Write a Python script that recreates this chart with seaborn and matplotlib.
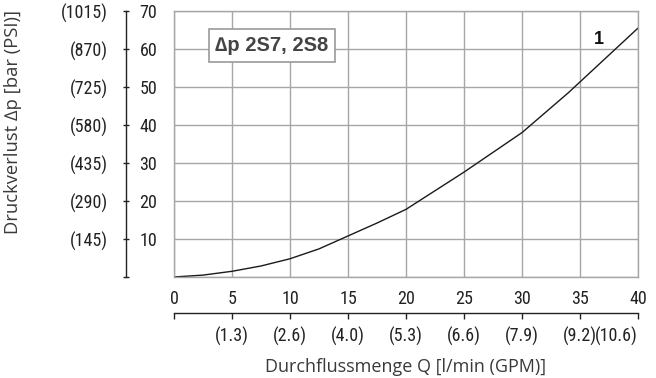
import matplotlib
matplotlib.use("Agg")
import matplotlib.pyplot as plt
from matplotlib import font_manager
import seaborn as sns
import pandas as pd

# ---- data ----
flow_lpm = [0, 2.5, 5, 7.5, 10, 12.5, 15, 17.5, 20, 25, 30, 34, 40]
dp_bar = [0, 0.5, 1.5, 2.9, 4.8, 7.4, 10.8, 14.2, 17.8, 27.6, 38.0, 48.5, 65.5]
x_ticks = [0, 5, 10, 15, 20, 25, 30, 35, 40]
x_tick_labels = ["0", "5", "10", "15", "20", "25", "30", "35", "40"]
gpm_labels = ["", "(1.3)", "(2.6)", "(4.0)", "(5.3)", "(6.6)", "(7.9)", "(9.2)", "(10.6)"]
y_ticks = [0, 10, 20, 30, 40, 50, 60, 70]
y_tick_labels = ["", "10", "20", "30", "40", "50", "60", "70"]
psi_labels = ["", "(145)", "(290)", "(435)", "(580)", "(725)", "(870)", "(1015)"]
title_text = "\u2206p 2S7, 2S8"
curve_label = "1"
x_label = "Durchflussmenge Q [l/min (GPM)]"
y_label = "Druckverlust \u2206p [bar (PSI)]"

sns.set_theme(style="white")

installed = {f.name for f in font_manager.fontManager.ttflist}
num_family = None
for cand in ["Liberation Sans Narrow", "Roboto Condensed", "Open Sans Condensed",
             "Noto Sans Condensed", "DejaVu Sans Condensed"]:
    if cand in installed:
        num_family = cand
        break
if num_family is None:
    num_family = "Liberation Sans"
    num_fs = 11.5
else:
    num_fs = 13
plt.rcParams["font.family"] = [num_family, "Liberation Sans", "DejaVu Sans"]

W, H = 656, 378
fig = plt.figure(figsize=(W / 100, H / 100), dpi=100)
L, R, T, B = 174, 638, 11, 277
ax = fig.add_axes([L / W, 1 - B / H, (R - L) / W, (B - T) / H])

df = pd.DataFrame({"Q": flow_lpm, "dp": dp_bar})
sns.lineplot(data=df, x="Q", y="dp", ax=ax, color="#1a1a1a", linewidth=1.0)

ax.set_xlim(0, 40)
ax.set_ylim(0, 70)
ax.set_xlabel("")
ax.set_ylabel("")
grid_c = "#a6a6a6"
ax.grid(True, color=grid_c, linewidth=1.0)
for s in ax.spines.values():
    s.set_color(grid_c)
    s.set_linewidth(1.0)

txt_c = "#222222"
ax.set_xticks(x_ticks)
ax.set_xticklabels(x_tick_labels, fontsize=num_fs, color=txt_c)
ax.set_yticks(y_ticks)
ax.set_yticklabels(y_tick_labels, fontsize=num_fs, color=txt_c)
ax.tick_params(axis="x", length=0, pad=9)
ax.tick_params(axis="y", length=0, pad=12)

# secondary y axis (PSI)
sy = ax.secondary_yaxis((126 - L) / (R - L))
sy.set_yticks(y_ticks)
sy.set_yticklabels(psi_labels, fontsize=num_fs, color=txt_c)
sy.spines["left"].set_color(txt_c)
sy.spines["left"].set_linewidth(1.0)
sy.tick_params(axis="y", direction="inout", length=4, width=1.0, color=txt_c, pad=11)

# secondary x axis (GPM)
sx = ax.secondary_xaxis(-(313 - B) / (B - T))
sx.set_xticks(x_ticks)
sx.set_xticklabels(gpm_labels, fontsize=num_fs, color=txt_c)
sx.spines["bottom"].set_color(txt_c)
sx.spines["bottom"].set_linewidth(1.0)
sx.tick_params(axis="x", direction="out", length=4, width=1.0, color=txt_c, pad=6)
last = sx.get_xticklabels()[-1]
last.set_horizontalalignment("right")

# annotations
ax.text(8.45, 60.9, title_text, ha="center", va="center", fontsize=14.5,
        fontweight="bold", color="#444444",
        family=["Liberation Sans", "DejaVu Sans"],
        bbox=dict(boxstyle="square,pad=0.33", facecolor="white", edgecolor="#999999", linewidth=1.2))
ax.text(36.6, 62.5, curve_label, ha="center", va="center", fontsize=13,
        fontweight="bold", color="#111111", family=["Liberation Sans", "DejaVu Sans"])

lab_font = ["Open Sans", "DejaVu Sans"]
fig.text(406 / W, 1 - 367 / H, x_label, ha="center", va="center", fontsize=13,
         color="#3a3a3a", family=lab_font)
fig.text(13 / W, 1 - 122 / H, y_label, ha="center", va="center", rotation=90,
         fontsize=13.2, color="#3a3a3a", family=lab_font)

fig.savefig("out.png", dpi=100)
